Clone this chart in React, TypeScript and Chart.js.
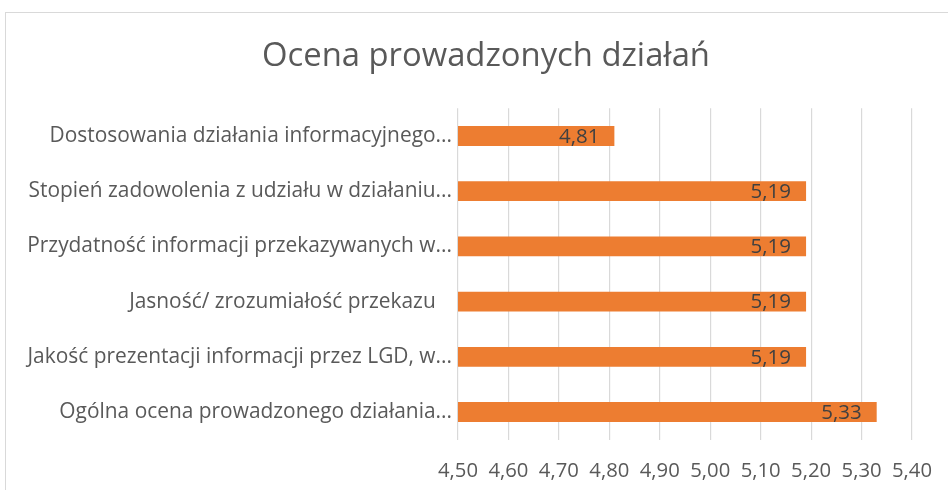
import React, { useEffect, useRef } from "react";
import { Chart, registerables } from "chart.js";

Chart.register(...registerables);

const categories = [
  "Dostosowania działania informacyjnego...",
  "Stopień zadowolenia z udziału w działaniu...",
  "Przydatność informacji przekazywanych w...",
  "Jasność/ zrozumiałość przekazu   ",
  "Jakość prezentacji informacji przez LGD, w...",
  "Ogólna ocena prowadzonego działania...",
];
const values = [4.81, 5.19, 5.19, 5.19, 5.19, 5.33];
const axisMin = 4.5;
const axisMax = 5.4;
const axisStep = 0.1;
const titleText = "Ocena prowadzonych działań";

const FONT = "'Open Sans', 'Liberation Sans', sans-serif";
const fmt = (v: number) => v.toFixed(2).replace(".", ",");

const borderPlugin = {
  id: "outerBorder",
  afterLayout(chart: any) {
    const t = chart.titleBlock;
    if (t) {
      t.left = 24;
      t.right = 948;
      t.width = 924;
    }
  },
  beforeDraw(chart: any) {
    const ctx = chart.ctx;
    ctx.save();
    ctx.strokeStyle = "#d9d9d9";
    ctx.lineWidth = 1;
    ctx.strokeRect(5.5, 12.5, 1200, 1000);
    ctx.restore();
  },
};

const dataLabelPlugin = {
  id: "barValueLabels",
  afterDatasetsDraw(chart: any) {
    const ctx = chart.ctx;
    const meta = chart.getDatasetMeta(0);
    ctx.save();
    ctx.font = `20.5px ${FONT}`;
    ctx.fillStyle = "#404040";
    ctx.textAlign = "right";
    ctx.textBaseline = "middle";
    meta.data.forEach((bar: any, i: number) => {
      ctx.fillText(fmt(values[i]), bar.x - 15, bar.y + 1);
    });
    ctx.restore();
  },
};

export default function App() {
  const ref = useRef<HTMLCanvasElement>(null);
  useEffect(() => {
    const chart = new Chart(ref.current!, {
      type: "bar",
      data: {
        labels: categories,
        datasets: [
          {
            data: values,
            backgroundColor: "#ED7D31",
            borderWidth: 0,
            barPercentage: 0.36,
            categoryPercentage: 1,
          },
        ],
      },
      options: {
        indexAxis: "y",
        responsive: false,
        animation: false,
        layout: { padding: { left: 5, right: 36, top: 0, bottom: -12 } },
        plugins: {
          legend: { display: false },
          tooltip: { enabled: false },
          title: {
            display: true,
            text: titleText,
            color: "#595959",
            font: { family: FONT, size: 32.8, weight: "normal" },
            padding: { top: 37, bottom: 32 },
          },
        },
        scales: {
          x: {
            min: axisMin,
            max: axisMax,
            grid: { color: "#d9d9d9", lineWidth: 1.2, drawTicks: false },
            border: { display: false },
            ticks: {
              stepSize: axisStep,
              padding: 19,
              color: "#595959",
              font: { family: FONT, size: 20.3 },
              callback: (v: any) => fmt(Number(v)),
            },
            afterFit: (scale: any) => {
              scale.paddingRight = 0;
              scale.paddingLeft = 0;
            },
          },
          y: {
            grid: { display: false, drawTicks: false },
            border: { display: false },
            ticks: {
              padding: 6,
              autoSkip: false,
              color: "#595959",
              font: { family: FONT, size: 20.9 },
            },
            afterFit: (scale: any) => {
              scale.width = 453;
            },
          },
        },
      },
      plugins: [borderPlugin, dataLabelPlugin],
    });
    return () => chart.destroy();
  }, []);
  return (
    <div style={{ position: "fixed", left: 0, top: 0, width: 948, height: 490, background: "#fff" }}>
      <canvas ref={ref} width={948} height={490} style={{ display: "block" }} />
    </div>
  );
}
